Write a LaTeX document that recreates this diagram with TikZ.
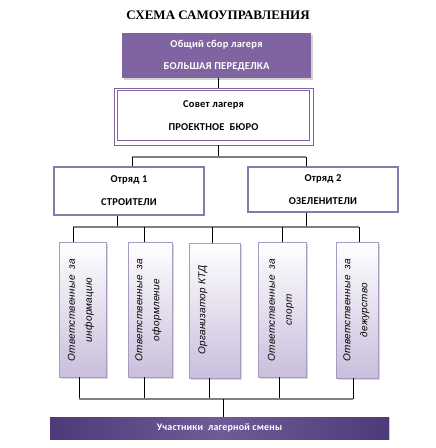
\documentclass[tikz,border=0pt]{standalone}
\usepackage{fontspec}
\setmainfont{Carlito}
\newfontfamily\titlefont{Liberation Serif}
\newfontfamily\itfont[LetterSpace=3]{Liberation Sans}
\newfontfamily\boxfont[LetterSpace=2]{Carlito}
\usetikzlibrary{shadows,calc}
\definecolor{purp}{HTML}{8064A2}
\definecolor{purpdark}{HTML}{4E3A78}
\definecolor{purpmid}{HTML}{6F5B98}
\definecolor{lav}{HTML}{C9BEDC}
\definecolor{lavline}{HTML}{A89BC2}
\definecolor{obox}{HTML}{8A78A8}
\definecolor{hline}{HTML}{808080}
\begin{document}
\begin{tikzpicture}[x=1pt,y=-1pt,
  mainbox/.style={draw=none,fill=purp,minimum width=189pt,minimum height=45pt,inner sep=0pt,
     drop shadow={shadow xshift=1.5pt,shadow yshift=-1.5pt,opacity=0.35},
     text=white,align=center,font=\fontsize{10.5}{22}\selectfont\boxfont\bfseries},
  whitebox/.style={draw=obox,line width=1.5pt,fill=white,inner sep=0pt,
     align=center,font=\fontsize{10.5}{23}\selectfont\boxfont\bfseries},
  smallbox/.style={draw=lavline,line width=0.6pt,top color=white,bottom color=lav,inner sep=0pt,
     drop shadow={shadow xshift=1.5pt,shadow yshift=-1.5pt,opacity=0.3}},
  rtext/.style={rotate=90,align=center,font=\fontsize{10}{17}\selectfont\itfont\itshape},
  vline/.style={draw=black,line width=0.8pt},
  hl/.style={draw=hline,line width=1.4pt}
]
\useasboundingbox (0,0) rectangle (436,448);

\node[font=\fontsize{13}{15}\selectfont\titlefont\bfseries] (title) at (218,15) {СХЕМА САМОУПРАВЛЕНИЯ};

\node[mainbox] (gen) at (216.5,55.5) {Общий сбор лагеря\\БОЛЬШАЯ ПЕРЕДЕЛКА};

\node[draw=purp,line width=0.8pt,minimum width=199pt,minimum height=57pt,inner sep=0pt] (sovetout) at (213.5,116.5) {};
\node[draw=purp,line width=1pt,fill=white,minimum width=192pt,minimum height=50pt,inner sep=0pt,
      align=center,font=\fontsize{10.5}{23}\selectfont\boxfont\bfseries] (sovet) at (213.5,115.5) {Совет лагеря\\ПРОЕКТНОЕ\ \ БЮРО};

\node[whitebox,minimum width=150pt,minimum height=48pt] (o1) at (129,191) {Отряд 1\\СТРОИТЕЛИ};
\node[whitebox,minimum width=150pt,minimum height=45pt] (o2) at (323,189.5) {Отряд 2\\ОЗЕЛЕНИТЕЛИ};

\node[smallbox,minimum width=47pt,minimum height=135pt] (a) at (82.5,309.5) {};
\node[smallbox,minimum width=44pt,minimum height=135pt] (b) at (150,309.5) {};
\node[smallbox,minimum width=51pt,minimum height=135pt] (c) at (214.5,310.5) {};
\node[smallbox,minimum width=48pt,minimum height=135pt] (d) at (282,309.5) {};
\node[smallbox,minimum width=42pt,minimum height=136pt] (e) at (357,310) {};

\node[rtext] (ta) at (81,310) {Ответственные\ \ за\\информацию};
\node[rtext] (tb) at (148.5,310) {Ответственные\ \ за\\оформление};
\node[rtext] (tc) at (203,310) {Организатор КТД};
\node[rtext] (td) at (281,310) {Ответственные\ \ за\\спорт};
\node[rtext] (te) at (356.5,310) {Ответственные\ \ за\\дежурство};

\node[draw=none,inner sep=0pt,minimum width=339pt,minimum height=22pt,
      left color=purpdark,right color=purpdark,middle color=purpmid,
      drop shadow={shadow xshift=1pt,shadow yshift=-1pt,opacity=0.3},
      text=white,font=\fontsize{10}{11}\selectfont\boxfont\bfseries] (bar) at (219.5,428) {Участники\ \ лагерной смены};

% junction coordinates
\coordinate (x218) at (218,0);
\coordinate (j1) at (218,157);
\coordinate (j1l) at (132,157);
\coordinate (j1r) at (306,157);
\coordinate (x117) at (117,0);
\coordinate (x306) at (306,0);
\coordinate (j2a) at (73,227);
\coordinate (j2b) at (144,227);
\coordinate (j2c) at (212,227);
\coordinate (j2d) at (282,227);
\coordinate (j2e) at (359,227);
\coordinate (j3a) at (79,399);
\coordinate (j3b) at (144,399);
\coordinate (j3c) at (209,399);
\coordinate (j3d) at (279,399);
\coordinate (j3e) at (353,399);
\coordinate (j3m) at (223,399);

% connectors
\draw[vline] (gen.south -| x218) -- (sovetout.north -| x218);
\draw[vline] (sovetout.south -| x218) -- (j1);
\draw[hl] (j1l) -- (j1r);
\draw[vline] (j1l) -- (o1.north -| j1l);
\draw[vline] (j1r) -- (o2.north -| j1r);

\draw[vline] (o1.south -| x117) -- (x117 |- j2a);
\draw[vline] (o2.south -| x306) -- (x306 |- j2a);
\draw[hl] (j2a) -- (j2e);
\draw[vline] (j2a) -- (a.north -| j2a);
\draw[vline] (j2b) -- (b.north -| j2b);
\draw[vline] (j2c) -- (c.north -| j2c);
\draw[vline] (j2d) -- (d.north -| j2d);
\draw[vline] (j2e) -- (e.north -| j2e);

\draw[vline] (a.south -| j3a) -- (j3a);
\draw[vline] (b.south -| j3b) -- (j3b);
\draw[vline] (c.south -| j3c) -- (j3c);
\draw[vline] (d.south -| j3d) -- (j3d);
\draw[vline] (e.south -| j3e) -- (j3e);
\draw[hl] (j3a) -- (j3e);
\draw[vline] (j3m) -- (bar.north -| j3m);
\end{tikzpicture}
\end{document}
